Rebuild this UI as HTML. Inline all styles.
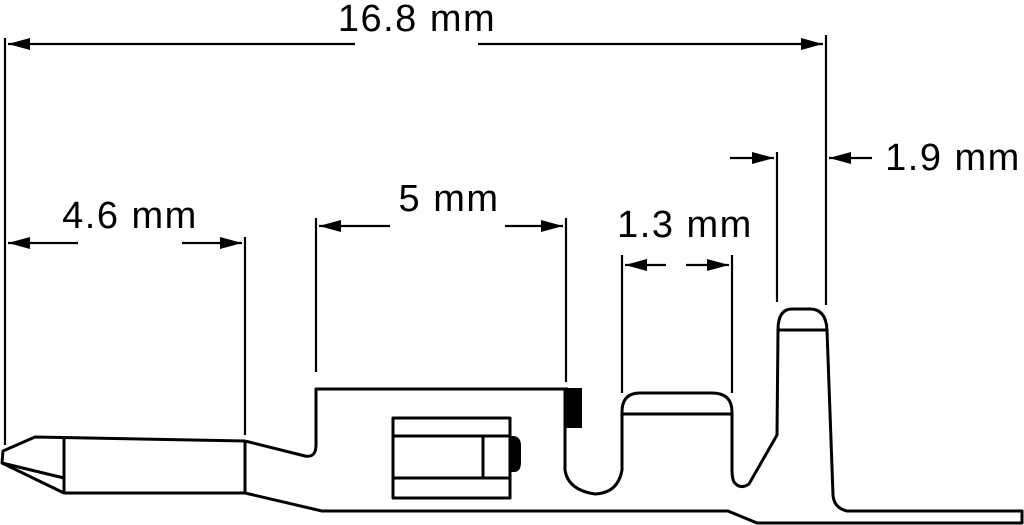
<!DOCTYPE html>
<html><head><style>html,body{margin:0;padding:0;background:#fff}svg{display:block}</style></head>
<body>
<svg width="1024" height="525" viewBox="0 0 1024 525" xmlns="http://www.w3.org/2000/svg">
<defs>
<marker id="b" viewBox="0 0 22 12" refX="22" refY="6" markerWidth="22" markerHeight="12" markerUnits="userSpaceOnUse" orient="auto">
<path d="M0,0 L22,6 L0,12 z" fill="#000"/></marker>
</defs>
<g fill="none" stroke="#000" stroke-width="2.2">
<line x1="5" y1="38" x2="5" y2="445"/>
<line x1="826" y1="35" x2="826" y2="305"/>
<line x1="245" y1="237" x2="245" y2="435"/>
<line x1="316" y1="218" x2="316" y2="372"/>
<line x1="566" y1="218" x2="566" y2="382"/>
<line x1="622" y1="255" x2="622" y2="393"/>
<line x1="732" y1="255" x2="732" y2="393"/>
<line x1="777" y1="152" x2="777" y2="302"/>
</g>
<g stroke="#000" stroke-width="2.2">
<line x1="355" y1="44" x2="8" y2="44" marker-end="url(#b)"/>
<line x1="478" y1="44" x2="823" y2="44" marker-end="url(#b)"/>
<line x1="78" y1="243" x2="8" y2="243" marker-end="url(#b)"/>
<line x1="182" y1="243" x2="242" y2="243" marker-end="url(#b)"/>
<line x1="390" y1="226" x2="319" y2="226" marker-end="url(#b)"/>
<line x1="505" y1="226" x2="563" y2="226" marker-end="url(#b)"/>
<line x1="666" y1="265" x2="625" y2="265" marker-end="url(#b)"/>
<line x1="686" y1="265" x2="729" y2="265" marker-end="url(#b)"/>
<line x1="730" y1="158" x2="774" y2="158" marker-end="url(#b)"/>
<line x1="872" y1="158" x2="829" y2="158" marker-end="url(#b)"/>
</g>
<g font-family="Liberation Sans, sans-serif" font-size="38" letter-spacing="1.5" fill="#000">
<text x="417" y="31" text-anchor="middle">16.8 mm</text>
<text x="130" y="228" text-anchor="middle">4.6 mm</text>
<text x="449" y="211" text-anchor="middle">5 mm</text>
<text x="685" y="237" text-anchor="middle">1.3 mm</text>
<text x="953" y="170" text-anchor="middle">1.9 mm</text>
</g>
<g fill="none" stroke="#000" stroke-width="3" stroke-linejoin="round">
<path d="M245,441 L35,437 L3,451 L2,463 L64,493 L245,493"/>
<path d="M2,463 L64,478"/>
<line x1="64" y1="439" x2="64" y2="493"/>
<line x1="245" y1="441" x2="245" y2="493"/>
<path d="M245,441 L305,456 Q316,458 316,445 L316,389 L568,389"/>
<path d="M245,493 L322,511 L728,511 L757,523 L1022,523 L1022,511 L847,511 Q834,508 833,495 L827,330 Q826,309 810,309 L792,309 Q778,309 778,330 L777,435 L749,484 Q740,490 734,482 Q732,478 732,470 L732,412 Q732,393 712,393 L640,393 Q622,393 622,412 L622,470 Q618,493 595,494 Q568,490 565,470 L565,389"/>
<line x1="778" y1="330" x2="827" y2="330"/>
<line x1="622" y1="414" x2="732" y2="414"/>
<rect x="393" y="418" width="117" height="80"/>
<line x1="393" y1="436" x2="510" y2="436"/>
<line x1="393" y1="478" x2="510" y2="478"/>
<line x1="483" y1="436" x2="483" y2="478"/>
</g>
<path d="M510,436 L514,436 Q521,437 521,446 L521,462 Q521,472 514,472 L510,472 z" fill="#000"/>
<rect x="565" y="388" width="17" height="40" fill="#000"/>
</svg>
</body></html>
